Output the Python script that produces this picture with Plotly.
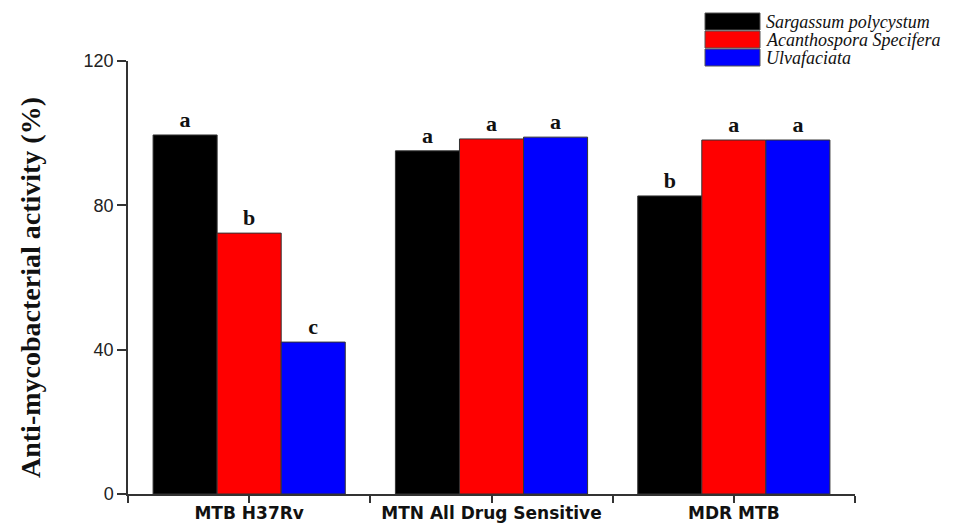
import plotly.graph_objects as go

categories = ["MTB H37Rv", "MTN All Drug Sensitive", "MDR MTB"]
series_names = ["Sargassum polycystum", "Acanthospora Specifera", "Ulvafaciata"]
series_colors = ["#000000", "#ff0000", "#0000ff"]
values = [
    [99.5, 95.1, 82.6],
    [72.3, 98.4, 98.1],
    [42.1, 98.9, 98.1],
]
letters = [
    ["a", "a", "b"],
    ["b", "a", "a"],
    ["c", "a", "a"],
]
y_ticks = [0, 40, 80, 120]
y_title = "Anti-mycobacterial activity (%)"

x_pos = list(range(len(categories)))

fig = go.Figure()
for name, color, vals, lets in zip(series_names, series_colors, values, letters):
    fig.add_trace(go.Bar(
        x=x_pos, y=vals, name=name,
        marker=dict(color=color, line=dict(color="#333333", width=1)),
        text=["<b>" + t + "</b>" for t in lets], textposition="outside",
        textfont=dict(family="Liberation Serif", size=22, color="#111111"),
        cliponaxis=False, showlegend=False,
    ))

tickvals = []
ticktext = []
for i, c in enumerate(categories):
    tickvals += [i - 0.5, i]
    ticktext += ["", c]
tickvals.append(len(categories) - 0.5)
ticktext.append("")

fig.update_layout(
    width=969, height=526,
    margin=dict(l=128, r=114, t=61, b=32, autoexpand=False),
    paper_bgcolor="white", plot_bgcolor="white",
    barmode="group", bargap=0.207, bargroupgap=0,
    xaxis=dict(
        range=[-0.5, len(categories) - 0.5],
        tickvals=tickvals, ticktext=ticktext,
        ticks="outside", ticklen=7, tickwidth=1.5, tickcolor="#333333",
        ticklabelstandoff=-4,
        showline=True, linecolor="#333333", linewidth=1.5,
        showgrid=False, zeroline=False,
        tickfont=dict(family="DejaVu Sans", size=17, color="#111111", weight="bold"),
    ),
    yaxis=dict(
        range=[0, 120], tickvals=y_ticks,
        ticks="outside", ticklen=9, tickwidth=1.5, tickcolor="#333333",
        showline=True, linecolor="#333333", linewidth=1.5,
        showgrid=False, zeroline=False,
        tickfont=dict(family="Liberation Sans", size=18, color="#222222"),
    ),
)

fig.add_annotation(xref="paper", yref="paper",
                   x=(30 - 128) / 727, y=((526 - 288) - 32) / 433,
                   xanchor="center", yanchor="middle", showarrow=False,
                   textangle=-90, text="<b>" + y_title + "</b>",
                   font=dict(family="Liberation Serif", size=28, color="#111111"))

# legend drawn as swatches + italic labels
row_h = 18 / 526
top = 1 - 13 / 526
for k, (name, color) in enumerate(zip(series_names, series_colors)):
    y1 = top - k * row_h
    y0 = y1 - row_h + 1 / 526
    fig.add_shape(type="rect", xref="paper", yref="paper",
                  x0=(705 - 128) / 727, x1=(760 - 128) / 727,
                  y0=(y0 * 526 - 32) / 433, y1=(y1 * 526 - 32) / 433,
                  fillcolor=color, line=dict(color="#555555", width=1))
    fig.add_annotation(xref="paper", yref="paper",
                       x=(764 - 128) / 727, y=((y0 + y1) / 2 * 526 - 32) / 433,
                       xanchor="left", yanchor="middle", showarrow=False,
                       text="<i>" + name + "</i>",
                       font=dict(family="Liberation Serif", size=18, color="#111111"))

fig.write_html("out.html")
